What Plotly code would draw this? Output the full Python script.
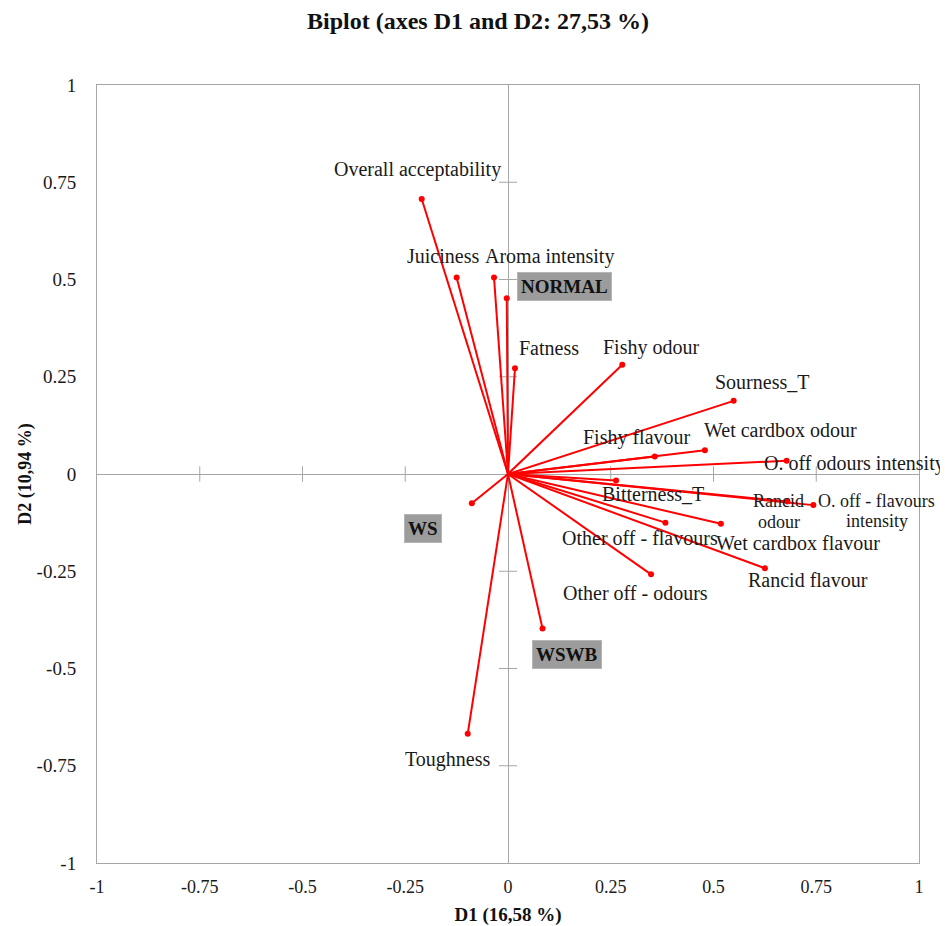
import plotly.graph_objects as go

# Variables (loadings on D1, D2)
var_names = ["Overall acceptability", "Juiciness", "Aroma intensity", "(normal var)",
             "Fatness", "Fishy odour", "Sourness_T", "Wet cardbox odour", "Fishy flavour",
             "O. off odours intensity", "Bitterness_T", "Rancid odour",
             "O. off - flavours intensity", "Wet cardbox flavour", "Other off - flavours",
             "Rancid flavour", "Other off - odours", "(ws var)", "(wswb var)", "Toughness"]
var_d1 = [-0.210, -0.125, -0.034, -0.003, 0.017, 0.278, 0.549, 0.479, 0.357,
          0.678, 0.263, 0.680, 0.743, 0.518, 0.383, 0.625, 0.348, -0.088, 0.084, -0.098]
var_d2 = [0.707, 0.505, 0.505, 0.452, 0.272, 0.281, 0.188, 0.061, 0.045,
          0.034, -0.017, -0.071, -0.080, -0.128, -0.125, -0.242, -0.258, -0.075, -0.397, -0.668]

# Variable labels (one entry per text line, with position)
label_text = ["Overall acceptability", "Juiciness", "Aroma intensity", "Fatness", "Fishy odour",
              "Sourness_T", "Wet cardbox odour", "Fishy flavour", "O. off odours intensity",
              "Bitterness_T", "Rancid", "odour", "O. off - flavours", "intensity",
              "Other off - flavours", "Wet cardbox flavour", "Rancid flavour",
              "Other off - odours", "Toughness"]
label_x = [-0.219, -0.158, 0.101, 0.099, 0.348, 0.617, 0.664, 0.314, 0.844,
           0.353, 0.659, 0.659, 0.897, 0.898, 0.322, 0.706, 0.730, 0.311, -0.146]
label_y = [0.783, 0.560, 0.560, 0.324, 0.326, 0.237, 0.113, 0.094, 0.026,
           -0.051, -0.069, -0.123, -0.069, -0.122, -0.165, -0.178, -0.272, -0.307, -0.733]

# Observations (grey boxes)
obs_names = ["NORMAL", "WS", "WSWB"]
obs_x = [0.137, -0.207, 0.144]
obs_y = [0.483, -0.139, -0.465]

# Axis ticks
tick_vals = [-1, -0.75, -0.5, -0.25, 0, 0.25, 0.5, 0.75, 1]
tick_text = ["-1", "-0.75", "-0.5", "-0.25", "0", "0.25", "0.5", "0.75", "1"]

# style settings
FONT = "Liberation Serif"
GRID = "#A6A6A6"
RED = "#FF0000"
TXT = "#1a1a1a"
SMALL_LABELS = {"Rancid", "odour", "O. off - flavours", "intensity"}

fig = go.Figure()

# tick crosses on the central axes
inner_ticks = [t for t in tick_vals if t not in (-1, 0, 1)]
fig.add_trace(go.Scatter(x=inner_ticks, y=[0] * len(inner_ticks), mode="markers",
                         marker=dict(symbol="line-ns-open", size=11, color=GRID,
                                     line=dict(color=GRID, width=1)),
                         hoverinfo="skip", showlegend=False))
fig.add_trace(go.Scatter(x=[0] * len(inner_ticks), y=inner_ticks, mode="markers",
                         marker=dict(symbol="line-ew-open", size=13, color=GRID,
                                     line=dict(color=GRID, width=1)),
                         hoverinfo="skip", showlegend=False))

# vectors
lx, ly = [], []
for a, b in zip(var_d1, var_d2):
    lx += [0, a, None]
    ly += [0, b, None]
fig.add_trace(go.Scatter(x=lx, y=ly, mode="lines", line=dict(color=RED, width=2),
                         hoverinfo="skip", showlegend=False))
fig.add_trace(go.Scatter(x=var_d1, y=var_d2, mode="markers", text=var_names,
                         marker=dict(color=RED, size=6), showlegend=False))

for t, x, y in zip(label_text, label_x, label_y):
    fs = 18 if t in SMALL_LABELS else 20
    fig.add_annotation(x=x, y=y, xref="x", yref="y", text=t, showarrow=False,
                       font=dict(family=FONT, size=fs, color=TXT))

for t, x, y in zip(obs_names, obs_x, obs_y):
    fig.add_annotation(x=x, y=y, xref="x", yref="y", text="<b>" + t + "</b>",
                       showarrow=False, bgcolor="#9C9C9C", bordercolor="#B5B5B5",
                       borderwidth=1, borderpad=3,
                       font=dict(family=FONT, size=19, color="#111111"))

axis_common = dict(range=[-1, 1], tickvals=tick_vals, ticktext=tick_text,
                   showgrid=False, zeroline=True, zerolinecolor=GRID, zerolinewidth=1,
                   showline=True, linecolor=GRID, linewidth=1, mirror=True,
                   ticks="", automargin=False)

# page body has an 8px default margin, so the figure is 8px smaller and offset
fig.update_layout(
    width=940, height=918,
    margin=dict(l=89, r=29, t=77, b=63),
    paper_bgcolor="white", plot_bgcolor="white",
    title=dict(text="<b>Biplot (axes D1 and D2: 27,53 %)</b>", x=0.4635, xanchor="center",
               xref="paper", yref="container", y=1 - 13 / 918, yanchor="middle",
               automargin=False,
               font=dict(family=FONT, size=24, color="#111111")),
    xaxis=dict(title=dict(text="<b>D1 (16,58 %)</b>", standoff=12,
                          font=dict(family=FONT, size=19, color="#111111")),
               tickfont=dict(family=FONT, size=18, color=TXT), ticklabelstandoff=7,
               **axis_common),
    yaxis=dict(title=dict(text="<b>D2 (10,94 %)</b>", standoff=0,
                          font=dict(family=FONT, size=18, color="#111111")),
               tickfont=dict(family=FONT, size=19, color=TXT), ticklabelstandoff=16,
               **axis_common),
)

fig.write_html("out.html")
